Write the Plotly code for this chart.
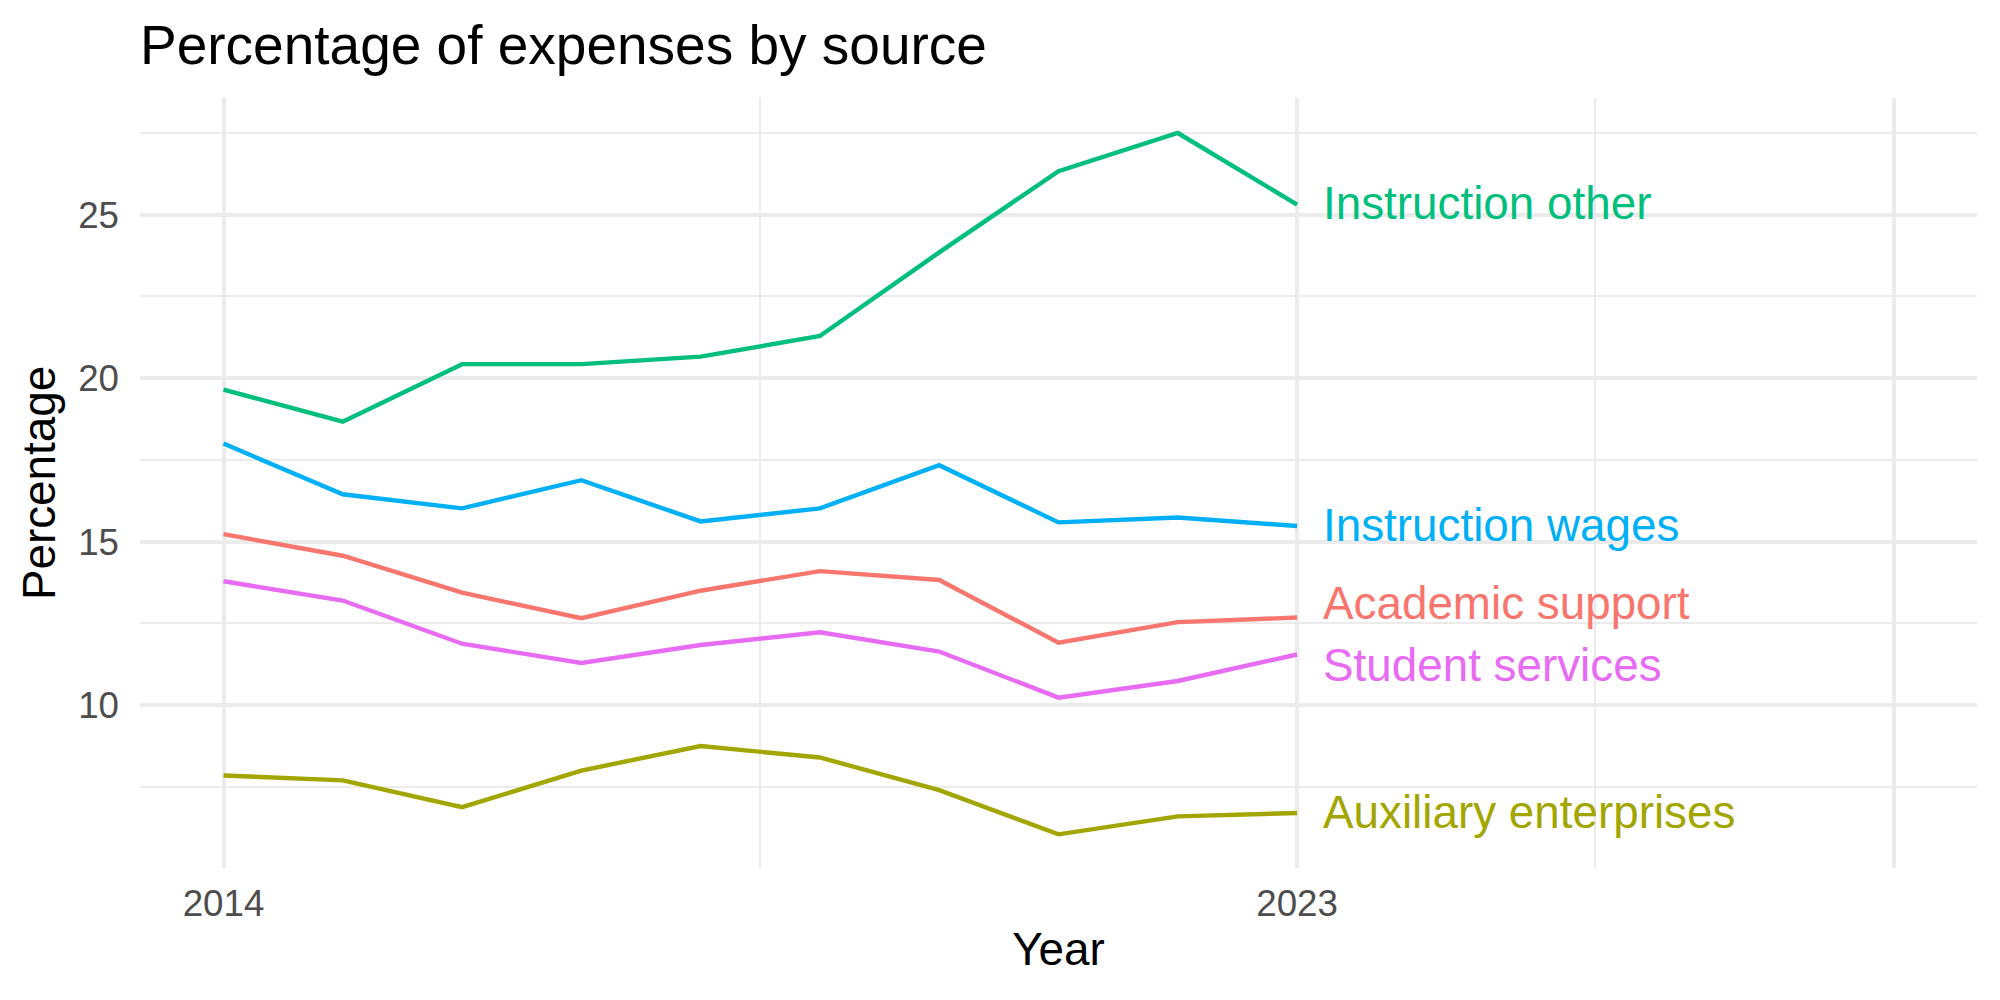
import plotly.graph_objects as go

years = [2014, 2015, 2016, 2017, 2018, 2019, 2020, 2021, 2022, 2023]

series_names = ["Academic support", "Auxiliary enterprises", "Instruction other",
                "Instruction wages", "Student services"]
academic_support = [15.23, 14.57, 13.44, 12.66, 13.50, 14.10, 13.83, 11.91, 12.54, 12.68]
auxiliary_enterprises = [7.85, 7.70, 6.88, 8.00, 8.75, 8.40, 7.40, 6.05, 6.60, 6.70]
instruction_other = [19.65, 18.67, 20.43, 20.43, 20.66, 21.29, 23.85, 26.33, 27.50, 25.31]
instruction_wages = [18.00, 16.45, 16.02, 16.88, 15.62, 16.02, 17.34, 15.59, 15.74, 15.48]
student_services = [13.79, 13.20, 11.88, 11.29, 11.84, 12.23, 11.64, 10.23, 10.74, 11.55]

series_values = [academic_support, auxiliary_enterprises, instruction_other,
                 instruction_wages, student_services]
colors = ["#F8766D", "#A3A500", "#00BF7D", "#00B0F6", "#E76BF3"]

label_x = 2023.2
label_y = [13.12, 6.72, 25.33, 15.5, 11.2]

x_tickvals = [2014, 2023, 2028]
x_ticktext = ["2014", "2023", ""]
x_minor = [2018.5, 2025.5]
y_tickvals = [10, 15, 20, 25]
y_minor = [7.5, 12.5, 17.5, 22.5, 27.5]

FONT = "Liberation Sans, Arial, Helvetica, sans-serif"
GRID = "#EBEBEB"

fig = go.Figure()
for name, vals, col in zip(series_names, series_values, colors):
    fig.add_trace(go.Scatter(x=years, y=vals, mode="lines", name=name,
                             line=dict(color=col, width=4.4), showlegend=False))

for name, ly, col in zip(series_names, label_y, colors):
    fig.add_annotation(x=label_x, y=ly, xref="x", yref="y", text=name,
                       showarrow=False, xanchor="left", yanchor="middle",
                       font=dict(family=FONT, size=45.8, color=col))

fig.update_layout(
    width=2000, height=1000,
    margin=dict(l=140, r=23, t=98, b=132),
    paper_bgcolor="white", plot_bgcolor="white",
    font=dict(family=FONT),
    title=dict(text="Percentage of expenses by source", x=0, xref="paper",
               xanchor="left", y=1 - 45 / 1000, yref="container", yanchor="middle",
               font=dict(family=FONT, size=55, color="black")),
    xaxis=dict(range=[2013.3, 2028.7], tickmode="array", tickvals=x_tickvals,
               ticktext=x_ticktext, showgrid=True, gridcolor=GRID, gridwidth=4.4,
               zeroline=False, showline=False, ticks="",
               ticklabelstandoff=10,
               tickfont=dict(family=FONT, size=36.7, color="#4D4D4D"),
               minor=dict(tickmode="array", tickvals=x_minor, showgrid=True,
                          gridcolor=GRID, gridwidth=2.2, ticks=""),
               title=dict(text="Year", standoff=10,
                          font=dict(family=FONT, size=45.8, color="black"))),
    yaxis=dict(range=[5.02, 28.57], tickmode="array", tickvals=y_tickvals,
               showgrid=True, gridcolor=GRID, gridwidth=4.4,
               zeroline=False, showline=False, ticks="",
               ticklabelstandoff=20,
               tickfont=dict(family=FONT, size=36.7, color="#4D4D4D"),
               minor=dict(tickmode="array", tickvals=y_minor, showgrid=True,
                          gridcolor=GRID, gridwidth=2.2, ticks=""),
               title=dict(text="Percentage", standoff=8,
                          font=dict(family=FONT, size=45.8, color="black"))),
)

fig.write_html("out.html")
